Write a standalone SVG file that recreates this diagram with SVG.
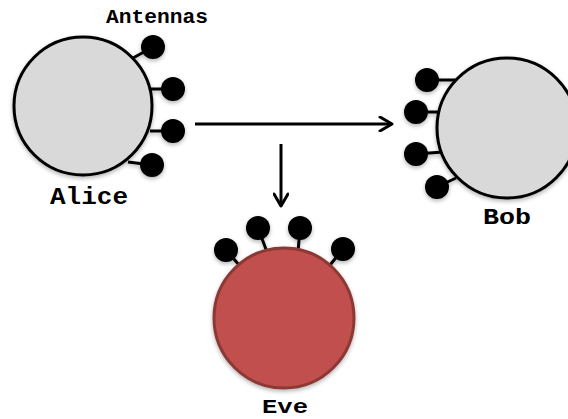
<svg xmlns="http://www.w3.org/2000/svg" width="568" height="419" viewBox="0 0 568 419">
  <defs>
    <filter id="shadow" x="-20%" y="-20%" width="140%" height="140%">
      <feGaussianBlur in="SourceAlpha" stdDeviation="2"/>
      <feOffset dx="0" dy="2" result="b"/>
      <feComponentTransfer><feFuncA type="linear" slope="0.3"/></feComponentTransfer>
      <feMerge><feMergeNode/><feMergeNode in="SourceGraphic"/></feMerge>
    </filter>
    <marker id="arrow" viewBox="0 0 16 16" refX="14" refY="8" markerWidth="16" markerHeight="16" markerUnits="userSpaceOnUse" orient="auto">
      <path d="M2,1 L14,8 L2,15" fill="none" stroke="#000" stroke-width="3" stroke-linecap="round" stroke-linejoin="round"/>
    </marker>
  </defs>
  <style>
    .party { fill: #d9d9d9; stroke: #000; stroke-width: 3; }
    .eve { fill: #c0504d; stroke: #8c3836; stroke-width: 3; }
    .stem { stroke: #000; stroke-width: 3; fill: none; }
    .ball { fill: #000; }
    .label { font-family: "Liberation Mono", "Courier New", monospace; font-weight: bold; fill: #000; text-anchor: middle; }
    .conn { stroke: #000; stroke-width: 3; fill: none; marker-end: url(#arrow); }
  </style>

  <g id="alice" filter="url(#shadow)">
    <line class="stem" x1="133" y1="58" x2="153" y2="47"/>
    <line class="stem" x1="150" y1="89" x2="173" y2="89"/>
    <line class="stem" x1="150" y1="131" x2="173" y2="131"/>
    <line class="stem" x1="128" y1="162" x2="152" y2="165"/>
    <circle class="party" cx="83" cy="106" r="69"/>
    <circle class="ball" cx="153" cy="47" r="12"/>
    <circle class="ball" cx="173" cy="89" r="12"/>
    <circle class="ball" cx="173" cy="131" r="12"/>
    <circle class="ball" cx="152" cy="165" r="12"/>
  </g>
  <text id="antennas-label" class="label" x="157" y="23" font-size="20" textLength="102" lengthAdjust="spacingAndGlyphs">Antennas</text>
  <text id="alice-label" class="label" x="89" y="204" font-size="24" textLength="78" lengthAdjust="spacingAndGlyphs">Alice</text>

  <g id="bob" filter="url(#shadow)">
    <line class="stem" x1="427" y1="80" x2="458" y2="80"/>
    <line class="stem" x1="416" y1="112" x2="442" y2="112"/>
    <line class="stem" x1="416" y1="154" x2="443" y2="152"/>
    <line class="stem" x1="437" y1="187" x2="456" y2="178"/>
    <circle class="party" cx="507" cy="128" r="70"/>
    <circle class="ball" cx="427" cy="80" r="12"/>
    <circle class="ball" cx="416" cy="112" r="12"/>
    <circle class="ball" cx="416" cy="154" r="12"/>
    <circle class="ball" cx="437" cy="187" r="12"/>
  </g>
  <text id="bob-label" class="label" x="507" y="224" font-size="22" textLength="48" lengthAdjust="spacingAndGlyphs">Bob</text>

  <g id="eve" filter="url(#shadow)">
    <line class="stem" x1="226" y1="250" x2="240" y2="266"/>
    <line class="stem" x1="258" y1="228" x2="267" y2="252"/>
    <line class="stem" x1="300" y1="228" x2="298" y2="252"/>
    <line class="stem" x1="343" y1="249" x2="330" y2="265"/>
    <circle class="eve" cx="284" cy="318" r="70"/>
    <circle class="ball" cx="226" cy="250" r="12"/>
    <circle class="ball" cx="258" cy="228" r="12"/>
    <circle class="ball" cx="300" cy="228" r="12"/>
    <circle class="ball" cx="343" cy="249" r="12"/>
  </g>
  <text id="eve-label" class="label" x="285" y="413" font-size="20" textLength="46" lengthAdjust="spacingAndGlyphs">Eve</text>

  <g id="connectors">
    <line class="conn" x1="195" y1="124" x2="392" y2="124"/>
    <line class="conn" x1="281" y1="144" x2="281" y2="206"/>
  </g>
</svg>
